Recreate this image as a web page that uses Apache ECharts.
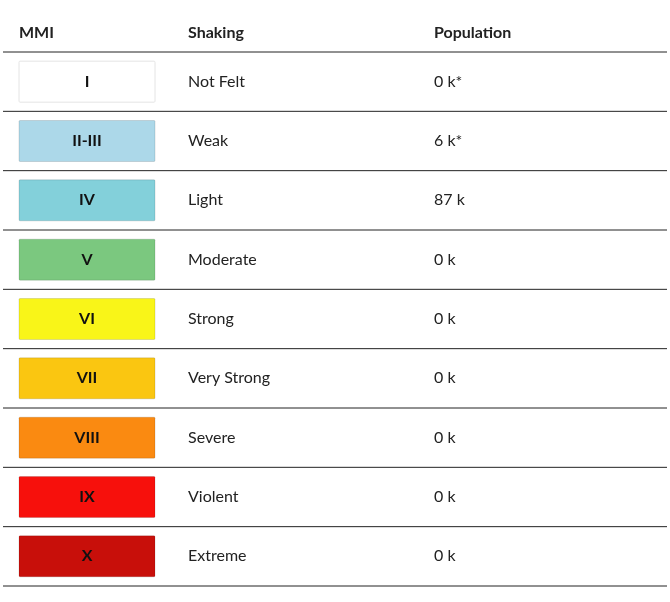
<!DOCTYPE html>
<html>
<head>
<meta charset="utf-8">
<script src="https://cdn.jsdelivr.net/npm/echarts@6/dist/echarts.min.js"></script>
<style>
html,body{margin:0;padding:0;background:#fff;}
#chart1{width:670px;height:602px;}
</style>
</head>
<body>
<div id="chart1"></div>
<script>
var mmiLevels = ['I', 'II-III', 'IV', 'V', 'VI', 'VII', 'VIII', 'IX', 'X'];
var shaking = ['Not Felt', 'Weak', 'Light', 'Moderate', 'Strong', 'Very Strong', 'Severe', 'Violent', 'Extreme'];
var population = ['0 k*', '6 k*', '87 k', '0 k', '0 k', '0 k', '0 k', '0 k', '0 k'];
var mmiColors = ['#ffffff', '#acd8e9', '#83d0da', '#7bc87f', '#f9f518', '#fac611', '#fa8a11', '#f7100c', '#c80f0a'];

var myChart = echarts.init(document.getElementById('chart1'));
var font = 'Lato, "Noto Sans", sans-serif';

function renderRow(params, api) {
	var i = api.value(0);
	var c = api.coord([0, i]);
	var band = api.size([0, 1])[1];
	var top = c[1] - band / 2, bottom = c[1] + band / 2;
	var children = [
		{
			type: 'rect',
			shape: { x: 19, y: c[1] - 20.5, width: 136, height: 41, r: 1 },
			style: { fill: mmiColors[i], stroke: i == 0 ? '#e4e4e4' : 'rgba(0,0,0,0.12)', lineWidth: 1 }
		},
		{
			type: 'text',
			style: { x: 87, y: c[1], text: mmiLevels[i], align: 'center', verticalAlign: 'middle',
				font: 'bold 16px ' + font, fill: '#111' }
		},
		{
			type: 'text',
			style: { x: 188, y: c[1], text: shaking[i], verticalAlign: 'middle', font: '16px ' + font, fill: '#222' }
		},
		{
			type: 'text',
			style: { x: 434, y: c[1], text: population[i], verticalAlign: 'middle', font: '16px ' + font, fill: '#222' }
		},
		{
			type: 'line',
			shape: { x1: 3, y1: bottom, x2: 667, y2: bottom },
			style: { stroke: '#222', lineWidth: 1 }
		}
	];
	if (i == 0) {
		children.push({
			type: 'line',
			shape: { x1: 3, y1: top, x2: 667, y2: top },
			style: { stroke: '#222', lineWidth: 1 }
		});
	}
	return { type: 'group', children: children };
}

var option = {
	animation: false,
	grid: { left: 0, right: 0, top: 52, bottom: 16 },
	xAxis: { type: 'value', min: 0, max: 670, show: false },
	yAxis: { type: 'category', data: mmiLevels, inverse: true, show: false },
	graphic: [
		{ type: 'text', left: 19, top: 25, style: { text: 'MMI', font: 'bold 16px ' + font, fill: '#222' } },
		{ type: 'text', left: 188, top: 25, style: { text: 'Shaking', font: 'bold 16px ' + font, fill: '#222' } },
		{ type: 'text', left: 434, top: 25, style: { text: 'Population', font: 'bold 16px ' + font, fill: '#222' } }
	],
	series: [{
		type: 'custom',
		renderItem: renderRow,
		data: mmiLevels.map(function (m, i) { return [i]; }),
		encode: { y: 0 }
	}]
};
myChart.setOption(option);
</script>
</body>
</html>
